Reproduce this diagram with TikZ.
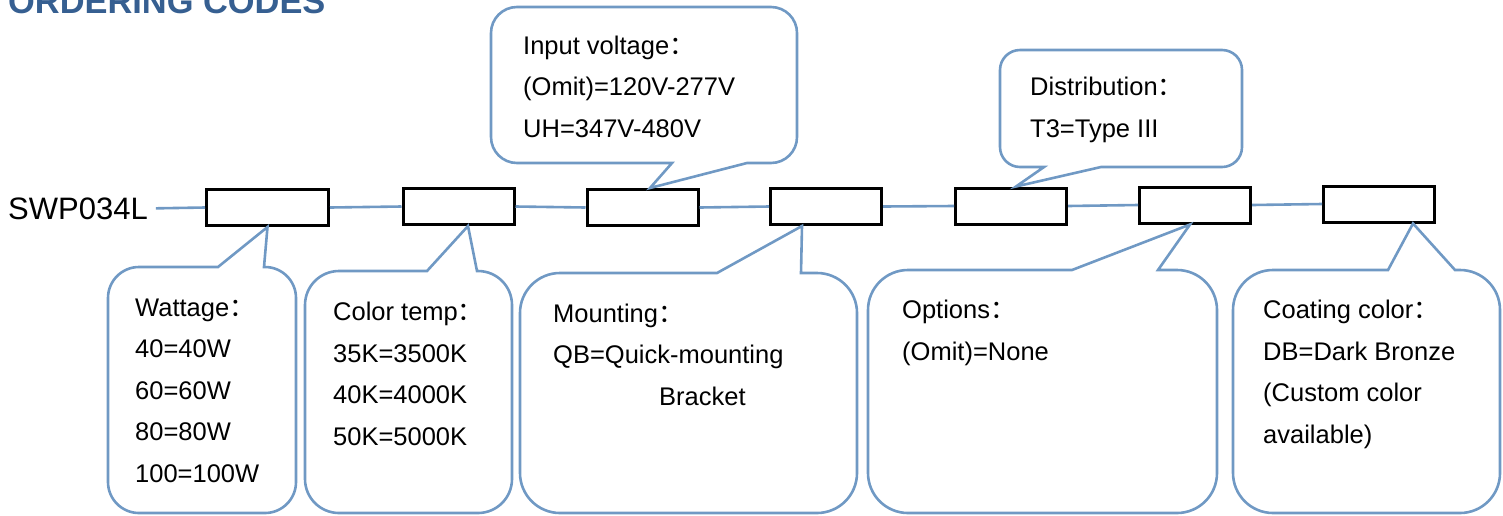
\documentclass[tikz,border=0pt]{standalone}
\usepackage{fontspec}
\setmainfont{Liberation Sans}
\newfontfamily\cjk{Noto Sans CJK SC}
\usepackage{tikz}
\definecolor{calloutblue}{RGB}{112,153,196}
\definecolor{headblue}{RGB}{54,95,145}
\newcommand{\fwc}{{\cjk ：}}
\newcommand{\noteup}[8]{\draw[calloutline] (#6,#2) -- (#8) -- (#7,#2) -- ({#3-#5},#2)
  arc[start angle=270,end angle=360,radius=#5] -- (#3,{#4-#5})
  arc[start angle=0,end angle=90,radius=#5] -- ({#1+#5},#4)
  arc[start angle=90,end angle=180,radius=#5] -- (#1,{#2+#5})
  arc[start angle=180,end angle=270,radius=#5] -- cycle;}
\newcommand{\notedown}[8]{\draw[calloutline] ({#1+#5},#2) -- ({#3-#5},#2)
  arc[start angle=270,end angle=360,radius=#5] -- (#3,{#4-#5})
  arc[start angle=0,end angle=90,radius=#5] -- (#7,#4) -- (#8) -- (#6,#4) -- ({#1+#5},#4)
  arc[start angle=90,end angle=180,radius=#5] -- (#1,{#2+#5})
  arc[start angle=180,end angle=270,radius=#5] -- cycle;}

\begin{document}
\begin{tikzpicture}[x=1pt,y=-1pt,
  codebox/.style={draw=black, line width=3pt, inner sep=0, minimum width=111pt, minimum height=36pt},
  link/.style={draw=calloutblue, line width=2.6pt},
  calloutline/.style={draw=calloutblue, line width=2.6pt, line join=miter},
  note/.style={anchor=base west, inner sep=0, align=left, font=\fontsize{25.5}{41.5}\selectfont}]
\useasboundingbox (0,0) rectangle (1503,515);
\node[anchor=base west, inner sep=0, text=headblue, font=\bfseries\fontsize{34.4}{40}\selectfont] (title) at (8,13) {ORDERING CODES};
\node[anchor=base west, inner sep=0, font=\fontsize{31}{37}\selectfont] (code) at (8,219) {SWP034L};
\node[codebox, minimum width=122pt] (b1) at (267.5,207.5) {};
\foreach \n/\x/\y in {2/458.5/206.5, 3/642.5/207.5, 4/826/206.5, 5/1011/206, 6/1195/205, 7/1379/204}
  {\node[codebox] (b\n) at (\x,\y) {};}
\draw[link] ([xshift=8pt]code.east) -- (b1.west);
\foreach \a/\b in {b1/b2, b2/b3, b3/b4, b4/b5, b5/b6, b6/b7}
  {\draw[link] (\a.east) -- (\b.west);}

\notedown{491}{7}{797}{163}{26}{672}{747}{[xshift=7.5pt]b3.north}
\notedown{1000}{50}{1242}{167}{20}{1044}{1101}{[xshift=5pt]b5.north}
\noteup{108}{267}{296}{513}{31}{218}{264}{b1.south}
\noteup{305}{271}{512}{513}{34}{427}{477}{[xshift=9.5pt]b2.south}
\noteup{520}{273}{857}{513}{40}{717}{801}{[xshift=-24pt]b4.south}
\noteup{868}{270}{1217}{513}{40}{1072}{1158}{[xshift=-5pt]b6.south}
\noteup{1233}{270}{1500}{513}{40}{1388}{1455}{[xshift=34pt]b7.south}

\node[note] (voltage) at (523,137) {Input voltage\fwc\\(Omit)=120V-277V\\UH=347V-480V};
\node[note] (distrib) at (1030,137) {Distribution\fwc\\T3=Type III};
\node[note] (wattage) at (135,482) {Wattage\fwc\\40=40W\\60=60W\\80=80W\\100=100W};
\node[note] (colortemp) at (333,445) {Color temp\fwc\\35K=3500K\\40K=4000K\\50K=5000K};
\node[note] (mounting) at (553,405) {Mounting\fwc\\QB=Quick-mounting\\\hspace*{106pt}Bracket};
\node[note] (options) at (902,360) {Options\fwc\\(Omit)=None};
\node[note] (coating) at (1263,443) {Coating color\fwc\\DB=Dark Bronze\\(Custom color\\available)};
\end{tikzpicture}
\end{document}
